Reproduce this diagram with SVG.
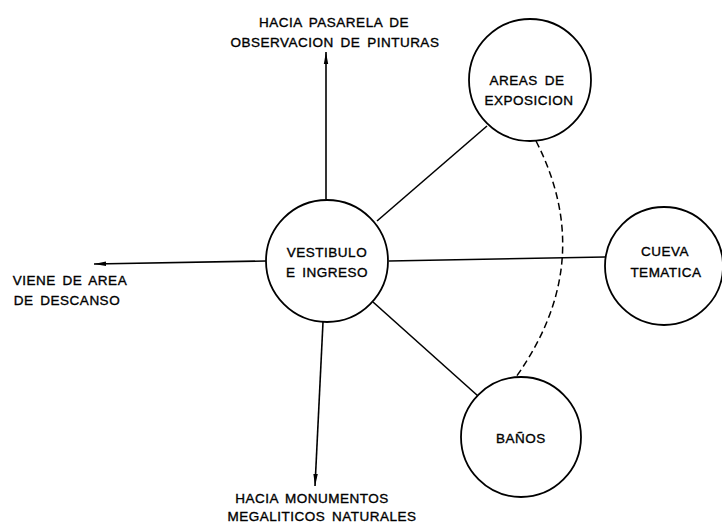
<svg xmlns="http://www.w3.org/2000/svg" width="722" height="523" viewBox="0 0 722 523">
<style>
.n{fill:#fff;stroke:#000;stroke-width:1.8}
.c{stroke:#000;stroke-width:1.6;fill:none}
.d{stroke:#000;stroke-width:1.5;fill:none;stroke-dasharray:7 4}
text{font-family:"Liberation Sans",Arial,sans-serif;font-size:13.5px;fill:#000;stroke:#000;stroke-width:0.35;text-anchor:middle;letter-spacing:0.5px;word-spacing:2.5px}
</style>
<defs>
<marker id="ah" viewBox="0 0 12 6" refX="12" refY="3" markerWidth="12" markerHeight="6" markerUnits="userSpaceOnUse" orient="auto">
<path d="M0,0.8 L12,3 L0,5.2 Z" fill="#000"/>
</marker>
</defs>
<rect width="722" height="523" fill="#fff"/>
<g id="connectors">
<line class="c" x1="377" y1="221" x2="487" y2="126"/>
<line class="c" x1="389" y1="261" x2="605" y2="257"/>
<line class="c" x1="373" y1="302" x2="478" y2="396"/>
<line class="c" x1="326" y1="199" x2="326" y2="52" marker-end="url(#ah)"/>
<line class="c" x1="266" y1="261" x2="94" y2="264" marker-end="url(#ah)"/>
<line class="c" x1="323" y1="322" x2="315" y2="486" marker-end="url(#ah)"/>
<path class="d" d="M536,141 Q598,262 516,377"/>
</g>
<g id="vestibulo">
<circle class="n" cx="327" cy="261" r="61"/>
<text x="327" y="257">VESTIBULO</text>
<text x="327" y="277">E INGRESO</text>
</g>
<g id="areas">
<circle class="n" cx="530" cy="80" r="61"/>
<text x="527" y="85">AREAS DE</text>
<text x="529" y="105">EXPOSICION</text>
</g>
<g id="cueva">
<circle class="n" cx="664" cy="266" r="59"/>
<text x="665" y="256">CUEVA</text>
<text x="666" y="277">TEMATICA</text>
</g>
<g id="banos">
<circle class="n" cx="521" cy="437" r="60"/>
<text x="521" y="443">BAÑOS</text>
</g>
<g id="labels">
<text x="334" y="27">HACIA PASARELA DE</text>
<text x="335" y="47">OBSERVACION DE PINTURAS</text>
<text x="70" y="285">VIENE DE AREA</text>
<text x="67" y="305">DE DESCANSO</text>
<text x="312" y="503">HACIA MONUMENTOS</text>
<text x="322" y="521">MEGALITICOS NATURALES</text>
</g>
</svg>
